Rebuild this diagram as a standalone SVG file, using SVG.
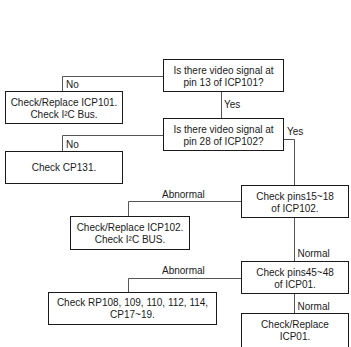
<svg xmlns="http://www.w3.org/2000/svg" width="351" height="347" viewBox="0 0 351 347">
<style>
.box{fill:#fff;stroke:#1a1a1a;stroke-width:1}
.t{font-family:"Liberation Sans",Arial,sans-serif;font-size:10px;fill:#1a1a1a;text-anchor:middle}
.l{font-family:"Liberation Sans",Arial,sans-serif;font-size:10px;fill:#1a1a1a}
.c{fill:none;stroke:#555;stroke-width:1}
</style>
<rect width="351" height="347" fill="#fff"/>
<g id="connectors">
<path class="c" d="M163.5,76.5 H62.5 V91.5"/>
<path class="c" d="M221.5,91.5 V118.5"/>
<path class="c" d="M163.5,135.5 H62.5 V151.5"/>
<path class="c" d="M283.5,139.5 H294.5 V185.5"/>
<path class="c" d="M241.5,201.5 H128.5 V216.5"/>
<path class="c" d="M294.5,217.5 V261.5"/>
<path class="c" d="M241.5,278.5 H128.5 V292.5"/>
<path class="c" d="M294.5,293.5 V313.5"/>
<text class="l" x="66" y="87.5">No</text>
<text class="l" x="224" y="108">Yes</text>
<text class="l" x="66" y="148">No</text>
<text class="l" x="287" y="135">Yes</text>
<text class="l" x="162" y="198">Abnormal</text>
<text class="l" x="297.5" y="257">Normal</text>
<text class="l" x="162" y="274">Abnormal</text>
<text class="l" x="297.5" y="310">Normal</text>
</g>
<g id="q1">
<rect class="box" x="163.5" y="59.5" width="120" height="32"/>
<text class="t" x="223.5" y="73.5">Is there video signal at</text>
<text class="t" x="223.5" y="85.5">pin 13 of ICP101?</text>
</g>
<g id="n1">
<rect class="box" x="5.5" y="91.5" width="117" height="32"/>
<text class="t" x="64" y="105.5">Check/Replace ICP101.</text>
<text class="t" x="64" y="117.5">Check I²C Bus.</text>
</g>
<g id="q2">
<rect class="box" x="163.5" y="118.5" width="120" height="32"/>
<text class="t" x="223.5" y="132.5">Is there video signal at</text>
<text class="t" x="223.5" y="144.5">pin 28 of ICP102?</text>
</g>
<g id="n2">
<rect class="box" x="5.5" y="151.5" width="117" height="32"/>
<text class="t" x="64" y="171">Check CP131.</text>
</g>
<g id="a">
<rect class="box" x="241.5" y="185.5" width="107" height="32"/>
<text class="t" x="295" y="199.5">Check pins15~18</text>
<text class="t" x="295" y="211.5">of ICP102.</text>
</g>
<g id="n3">
<rect class="box" x="70.5" y="216.5" width="119" height="33"/>
<text class="t" x="130" y="230.5">Check/Replace ICP102.</text>
<text class="t" x="130" y="242.5">Check I²C BUS.</text>
</g>
<g id="b">
<rect class="box" x="241.5" y="261.5" width="107" height="32"/>
<text class="t" x="295" y="275.5">Check pins45~48</text>
<text class="t" x="295" y="287.5">of ICP01.</text>
</g>
<g id="n4">
<rect class="box" x="48.5" y="292.5" width="168" height="32"/>
<text class="t" x="132.5" y="306">Check RP108, 109, 110, 112, 114,</text>
<text class="t" x="132.5" y="318">CP17~19.</text>
</g>
<g id="c">
<rect class="box" x="241.5" y="313.5" width="107" height="40"/>
<text class="t" x="295" y="327.5">Check/Replace</text>
<text class="t" x="295" y="339.5">ICP01.</text>
</g>
</svg>
